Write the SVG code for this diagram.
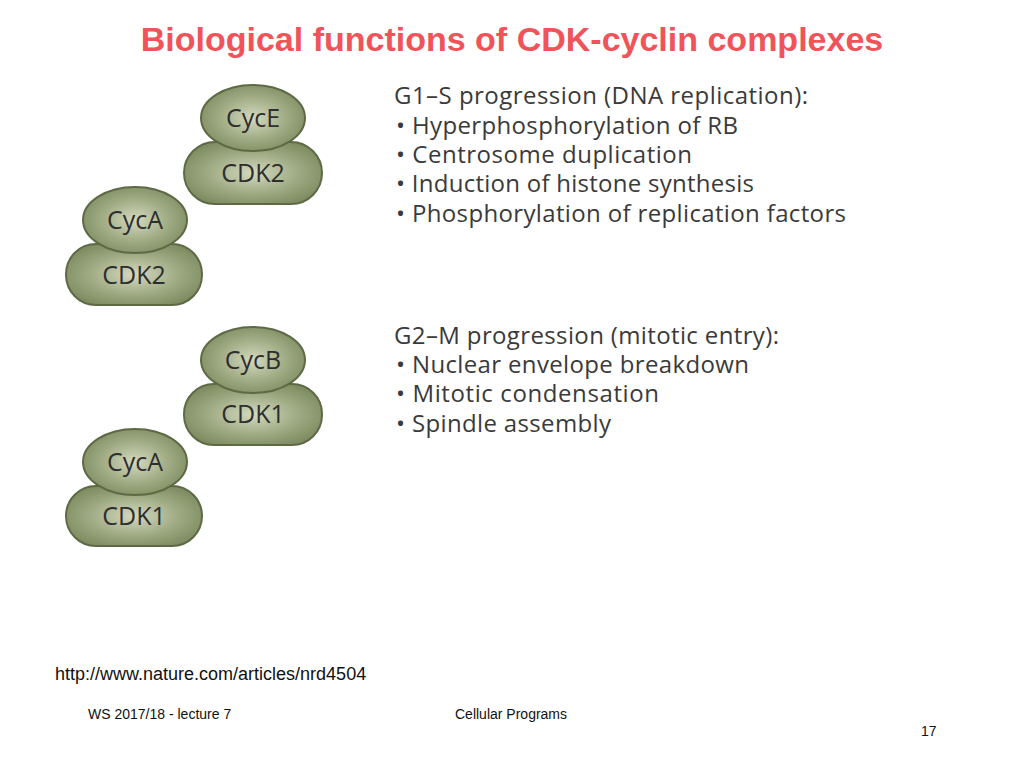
<svg xmlns="http://www.w3.org/2000/svg" width="1024" height="768" viewBox="0 0 1024 768">
<style>
.t{font-family:"Liberation Sans",Arial,sans-serif}
.b{font-family:"Open Sans","Noto Sans",sans-serif;font-size:24px;fill:#3a3a3a}
.n{font-family:"Open Sans","Noto Sans",sans-serif;font-size:25px;fill:#2e2e2e;text-anchor:middle}
.s{fill:url(#g);stroke:#5d6a45;stroke-width:2}
</style>
<defs>
<radialGradient id="g" cx="50%" cy="50%" r="60%">
<stop offset="0" stop-color="#d3d9bf"/>
<stop offset="0.6" stop-color="#9aa67d"/>
<stop offset="1" stop-color="#7a875c"/>
</radialGradient>
</defs>
<rect width="1024" height="768" fill="#fff"/>
<text class="t" x="512" y="51" text-anchor="middle" font-size="34" font-weight="bold" fill="#f0545a">Biological functions of CDK-cyclin complexes</text>
<g id="cdk2e"><rect class="s" x="184" y="142" width="138" height="62" rx="31"/><text class="n" x="253" y="182">CDK2</text></g>
<g id="cyce"><ellipse class="s" cx="253" cy="118" rx="52" ry="33"/><text class="n" x="253" y="127">CycE</text></g>
<g id="cdk2a"><rect class="s" x="66" y="244" width="136" height="61" rx="30"/><text class="n" x="134" y="284">CDK2</text></g>
<g id="cyca1"><ellipse class="s" cx="135" cy="220" rx="52" ry="33"/><text class="n" x="135" y="229">CycA</text></g>
<g id="cdk1b"><rect class="s" x="184" y="384" width="138" height="61" rx="30"/><text class="n" x="253" y="423">CDK1</text></g>
<g id="cycb"><ellipse class="s" cx="253" cy="360" rx="52" ry="33"/><text class="n" x="253" y="369">CycB</text></g>
<g id="cdk1a"><rect class="s" x="66" y="486" width="136" height="60" rx="30"/><text class="n" x="134" y="525">CDK1</text></g>
<g id="cyca2"><ellipse class="s" cx="135" cy="462" rx="52" ry="33"/><text class="n" x="135" y="471">CycA</text></g>
<g id="connectors"/>
<g class="b">
<text x="394" y="104" textLength="414">G1–S progression (DNA replication):</text>
<text x="396" y="134" textLength="342">• Hyperphosphorylation of RB</text>
<text x="396" y="163" textLength="296">• Centrosome duplication</text>
<text x="396" y="192" textLength="358">• Induction of histone synthesis</text>
<text x="396" y="222" textLength="450">• Phosphorylation of replication factors</text>
<text x="394" y="344" textLength="385">G2–M progression (mitotic entry):</text>
<text x="396" y="373" textLength="353">• Nuclear envelope breakdown</text>
<text x="396" y="402" textLength="263">• Mitotic condensation</text>
<text x="396" y="432" textLength="215">• Spindle assembly</text>
</g>
<text class="t" x="55" y="680" font-size="18" fill="#111">http://www.nature.com/articles/nrd4504</text>
<text class="t" x="88" y="719" font-size="14" fill="#111">WS 2017/18 - lecture 7</text>
<text class="t" x="455" y="719" font-size="14" fill="#111">Cellular Programs</text>
<text class="t" x="921" y="736" font-size="14" fill="#111">17</text>
</svg>
